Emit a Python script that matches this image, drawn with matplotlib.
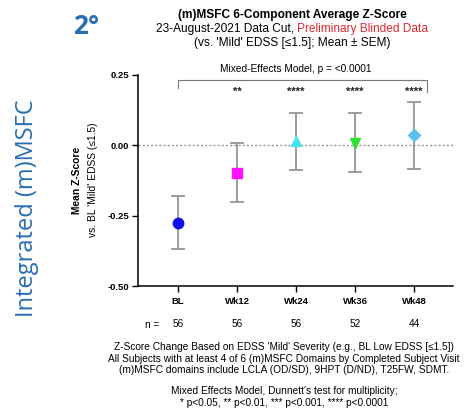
import numpy as np
import matplotlib
matplotlib.use("Agg")
import matplotlib.pyplot as plt

plt.rcParams['font.family'] = ['Liberation Sans', 'DejaVu Sans']

visits = ['BL', 'Wk12', 'Wk24', 'Wk36', 'Wk48']
mean_z = [-0.275, -0.097, 0.014, 0.009, 0.035]
sem_z = [0.095, 0.105, 0.101, 0.105, 0.119]
n_subj = [56, 56, 56, 52, 44]
stars = ['', '**', '****', '****', '****']
markers = ['o', 's', '^', 'v', 'D']
colors = ['#1010e6', '#ff10ff', '#40e6f2', '#2ee02e', '#5ec0f0']
msizes = [7.5, 7, 7.5, 7.5, 6.5]

blue = '#2a6db3'

fig = plt.figure(figsize=(4.72, 4.16), dpi=100)
ax = fig.add_axes([0.292, 0.3125, 0.668, 0.5075])

x = np.arange(len(visits))
ax.axhline(0, color='#999999', lw=1.0, ls=(0, (1.5, 1.5)), zorder=1)
for i in range(len(visits)):
    ax.errorbar(x[i], mean_z[i], yerr=sem_z[i], fmt='none', ecolor='#8c8c8c',
                elinewidth=1.2, capsize=5, capthick=1.2, zorder=2)
    ax.plot(x[i], mean_z[i], marker=markers[i], color=colors[i],
            markersize=msizes[i], ls='none', zorder=3)
    if stars[i]:
        ax.text(x[i], 0.19, stars[i], ha='center', va='center',
                fontsize=8, fontweight='bold', color='#222222')

ax.set_xlim(-0.68, 4.66)
ax.set_ylim(-0.5, 0.25)
ax.set_yticks([0.25, 0.0, -0.25, -0.5])
ax.set_yticklabels(['0.25', '0.00', '-0.25', '-0.50'])
ax.set_xticks(x)
ax.set_xticklabels(visits)
for lab in ax.get_xticklabels() + ax.get_yticklabels():
    lab.set_fontweight('bold')
ax.tick_params(axis='both', labelsize=6.8, length=4, width=1.0, pad=2)
ax.tick_params(axis='x', pad=4)
for s in ['top', 'right']:
    ax.spines[s].set_visible(False)
for s in ['left', 'bottom']:
    ax.spines[s].set_linewidth(1.1)

# bracket for the overall mixed-effects test
bx0, bx1, by = 0.0, 4.22, 0.233
ax.plot([bx0, bx0, bx1, bx1], [0.203, by, by, 0.19], color='#777777',
        lw=0.8, clip_on=False)
ax.text(2.0, 0.272, 'Mixed-Effects Model, p = <0.0001', ha='center',
        va='center', fontsize=7.3, clip_on=False)

fig.text(0.163, 0.567, 'Mean Z-Score', rotation=90, ha='center', va='center',
         fontsize=7.4, fontweight='bold')
fig.text(0.196, 0.567, "vs. BL 'Mild' EDSS (\u22641.5)", rotation=90,
         ha='center', va='center', fontsize=7.4)

# n per visit
for i in range(len(visits)):
    ax.text(x[i], -0.636, str(n_subj[i]), ha='center', va='center',
            fontsize=7.2, clip_on=False)
fig.text(0.322, 1 - 325 / 416, 'n =', ha='center', va='center', fontsize=7.2)

# titles
cx = 292 / 472
fig.text(cx, 1 - 15 / 416, '(m)MSFC 6-Component Average Z-Score',
         ha='center', va='center', fontsize=8.6, fontweight='bold')
t1 = fig.text(0.5, 1 - 29 / 416, '23-August-2021 Data Cut, ', ha='left',
              va='center', fontsize=8.6)
t2 = fig.text(0.5, 1 - 29 / 416, 'Preliminary Blinded Data', ha='left',
              va='center', fontsize=8.6, color='#e0282e')
fig.canvas.draw()
r = fig.canvas.get_renderer()
w1 = t1.get_window_extent(r).width / fig.bbox.width
w2 = t2.get_window_extent(r).width / fig.bbox.width
t1.set_x(cx - (w1 + w2) / 2)
t2.set_x(cx - (w1 + w2) / 2 + w1)
fig.text(cx, 1 - 43 / 416, "(vs. 'Mild' EDSS [\u22641.5]; Mean \u00b1 SEM)",
         ha='center', va='center', fontsize=8.6)

# panel labels
fig.text(86 / 472, 1 - 26 / 416, '2\u00b0', ha='center', va='center',
         fontsize=19, fontweight='bold', color=blue, family='Open Sans')
fig.text(27 / 472, 1 - 208 / 416, 'Integrated (m)MSFC', rotation=90,
         ha='center', va='center', fontsize=17, color=blue, family='Open Sans')

# footnotes
fx = 284 / 472
foot1 = ["Z-Score Change Based on EDSS 'Mild' Severity (e.g., BL Low EDSS [\u22641.5])",
         'All Subjects with at least 4 of 6 (m)MSFC Domains by Completed Subject Visit',
         '(m)MSFC domains include LCLA (OD/SD), 9HPT (D/ND), T25FW, SDMT.']
for k, line in enumerate(foot1):
    fig.text(fx, 1 - (347 + 11.5 * k) / 416, line, ha='center', va='center',
             fontsize=7.3)
foot2 = ["Mixed Effects Model, Dunnett's test for multiplicity;",
         '* p<0.05, ** p<0.01, *** p<0.001, **** p<0.0001']
for k, line in enumerate(foot2):
    fig.text(fx, 1 - (391 + 11.5 * k) / 416, line, ha='center', va='center',
             fontsize=7.3)

fig.savefig('out.png', dpi=100)
